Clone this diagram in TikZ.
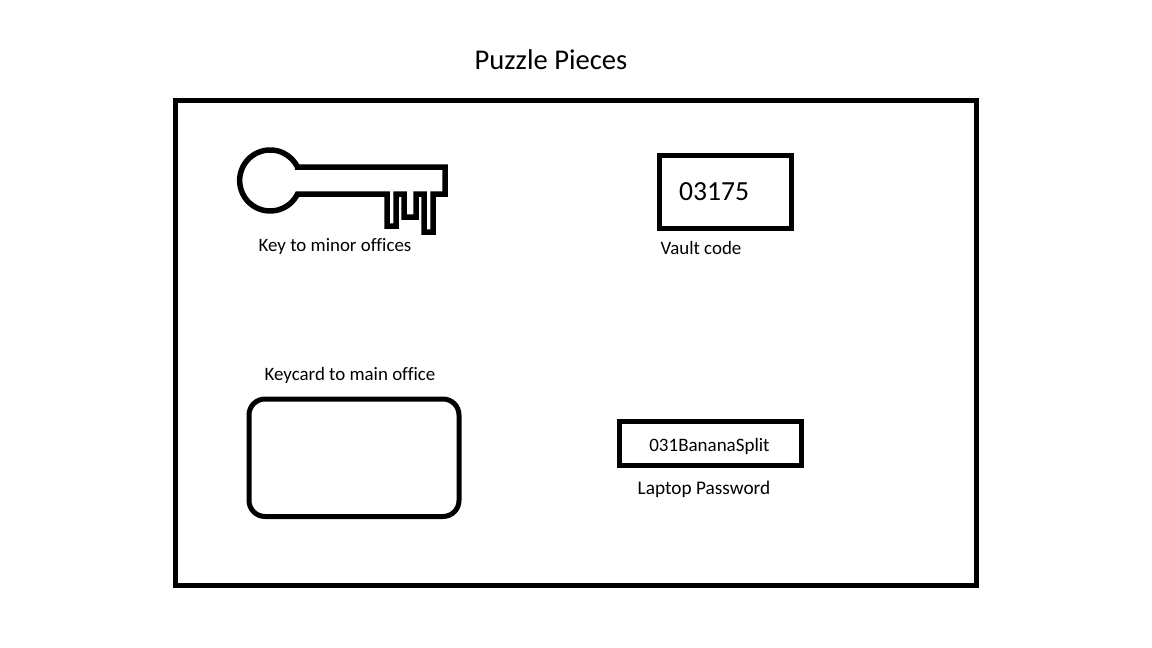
\documentclass[tikz,border=0pt]{standalone}
\usepackage{fontspec}
\setmainfont[Ligatures=NoCommon]{Carlito}
\tikzset{
  outline/.style={draw=black, line width=5pt, line join=miter},
  caption/.style={inner sep=0pt, font=\fontsize{18.9}{20}\selectfont},
}
\begin{document}
\begin{tikzpicture}[x=1pt,y=-1pt]
\useasboundingbox (0,0) rectangle (1152,648);
\node[inner sep=0pt, font=\fontsize{28.6}{30}\selectfont] (title) at (551,60) {Puzzle Pieces};

\draw[outline] (175,100) rectangle (976,585);

% key
\draw[outline, line width=5.5pt] (297.5,167) -- (445,167) -- (445,194) -- (433,194) -- (433,232) -- (424,232)
  -- (424,194) -- (416,194) -- (416,217) -- (404,217) -- (404,194) -- (396,194) -- (396,226) -- (387,226)
  -- (387,194) -- (297.5,194) arc (26.3:333.7:30.5) -- cycle;
\node[caption] (keylabel) at (335,247) {Key to minor offices};

% vault
\draw[outline] (659,155) rectangle (791,228.5);
\node[inner sep=0pt, font=\fontsize{27.6}{30}\selectfont] (vaultcode) at (714,192) {03175};
\node[caption] (vaultlabel) at (701,248) {Vault code};

% keycard
\draw[outline, rounded corners=16pt] (249,399) rectangle (459,516.5);
\node[caption] (cardlabel) at (350,375) {Keycard to main office};

% laptop
\node[outline, minimum width=182pt, minimum height=44.5pt, inner sep=0pt] (laptopbox) at (710,443.5) {};
\node[inner sep=0pt, font=\fontsize{19}{20}\selectfont] (laptoptext) at (709.5,446.5) {031BananaSplit};
\node[caption, font=\fontsize{19.3}{20}\selectfont] (laptoplabel) at (704,489) {Laptop Password};
\end{tikzpicture}
\end{document}
